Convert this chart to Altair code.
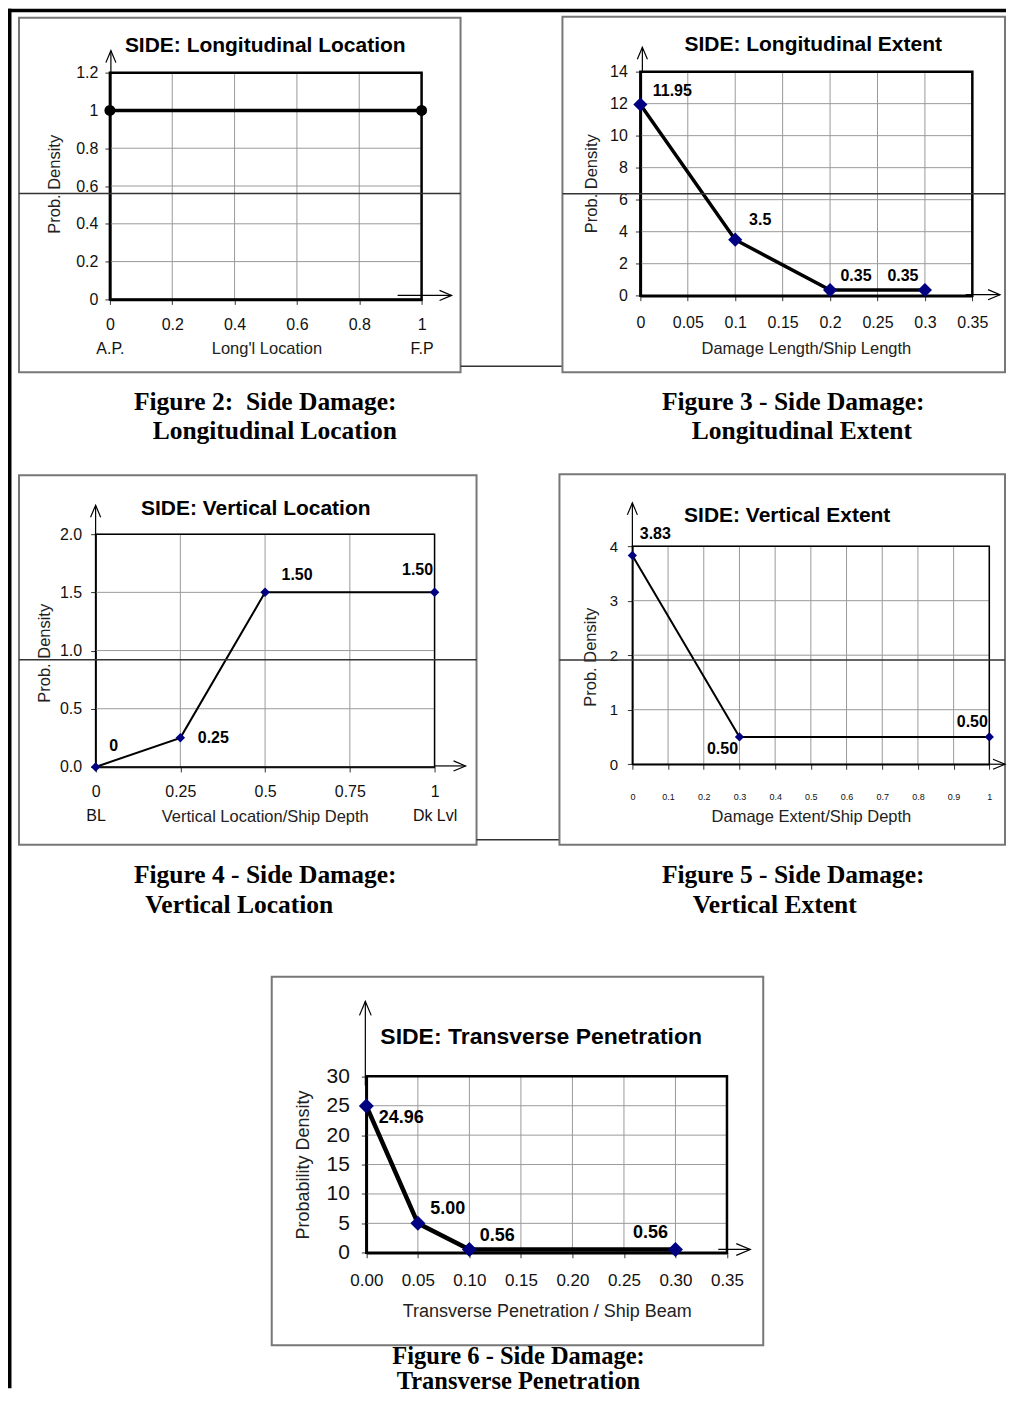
import altair as alt
import pandas as pd

# ------------------------------------------------------------------ data
# Figure 2 - Side damage: longitudinal location
f2_x = [0.0, 1.0]
f2_y = [1.0, 1.0]
f2_xticks = [0, 0.2, 0.4, 0.6, 0.8, 1.0]
f2_yticks = [0, 0.2, 0.4, 0.6, 0.8, 1.0, 1.2]
f2_ends = ["A.P.", "F.P"]

# Figure 3 - Side damage: longitudinal extent
f3_x = [0.0, 0.1, 0.2, 0.3]
f3_y = [11.95, 3.5, 0.35, 0.35]
f3_lbl = ["11.95", "3.5", "0.35", "0.35"]
f3_xticks = [0, 0.05, 0.1, 0.15, 0.2, 0.25, 0.3, 0.35]
f3_yticks = [0, 2, 4, 6, 8, 10, 12, 14]

# Figure 4 - Side damage: vertical location
f4_x = [0.0, 0.25, 0.5, 1.0]
f4_y = [0.0, 0.25, 1.5, 1.5]
f4_lbl = ["0", "0.25", "1.50", "1.50"]
f4_xticks = [0, 0.25, 0.5, 0.75, 1.0]
f4_yticks = [0, 0.5, 1.0, 1.5, 2.0]
f4_ends = ["BL", "Dk Lvl"]

# Figure 5 - Side damage: vertical extent
f5_x = [0.0, 0.3, 1.0]
f5_y = [3.83, 0.5, 0.5]
f5_lbl = ["3.83", "0.50", "0.50"]
f5_xticks = [0, 0.1, 0.2, 0.3, 0.4, 0.5, 0.6, 0.7, 0.8, 0.9, 1.0]
f5_yticks = [0, 1, 2, 3, 4]

# Figure 6 - Side damage: transverse penetration
f6_x = [0.0, 0.05, 0.1, 0.3]
f6_y = [24.96, 5.0, 0.56, 0.56]
f6_lbl = ["24.96", "5.00", "0.56", "0.56"]
f6_xticks = [0, 0.05, 0.1, 0.15, 0.2, 0.25, 0.3, 0.35]
f6_yticks = [0, 5, 10, 15, 20, 25, 30]

# ------------------------------------------------------------------ style
SANS = "Liberation Sans"
SERIF = "Liberation Serif"
GRID = "#9a9a9a"
NAVY = "#000080"
BOXC = "#777777"
UP = "M -0.42 1 L 0 0 L 0.42 1"
RIGHT = "M -1 -0.42 L 0 0 L -1 0.42"


def one():
    return alt.Data(values=[{"k": 0}])


def vrule(x, y1, y2, color="black", w=1.0):
    return alt.Chart(one()).mark_rule(color=color, strokeWidth=w).encode(
        x=alt.value(x), y=alt.value(y1), y2=alt.value(y2))


def hrule(y, x1, x2, color="black", w=1.0):
    return alt.Chart(one()).mark_rule(color=color, strokeWidth=w).encode(
        y=alt.value(y), x=alt.value(x1), x2=alt.value(x2))


def rect(x1, y1, x2, y2, stroke=BOXC, w=2.0, fill="transparent"):
    return alt.Chart(one()).mark_rect(fill=fill, stroke=stroke, strokeWidth=w).encode(
        x=alt.value(x1), x2=alt.value(x2), y=alt.value(y1), y2=alt.value(y2))


def text(txt, x, y, font, size, weight="bold"):
    return alt.Chart(one()).mark_text(
        text=txt, font=font, fontSize=size, fontWeight=weight, align="center",
        baseline="alphabetic", color="black").encode(x=alt.value(x), y=alt.value(y))


def head(x, y, shape, length):
    return alt.Chart(one()).mark_point(
        shape=shape, filled=False, color="black", strokeWidth=1.2,
        size=(2 * length) ** 2, opacity=1).encode(x=alt.value(x), y=alt.value(y))


def panel(S):
    sx = alt.Scale(domain=S["xdom"], range=S["xr"], nice=False, zero=False)
    sy = alt.Scale(domain=S["ydom"], range=S["yr"], nice=False, zero=False)
    H = S["H"]

    xa = dict(values=S["xticks"], format=S["xfmt"], orient="bottom",
              offset=S["yr"][0] - H, grid=False, domainColor="black",
              domainWidth=S["frame"], tickSize=5, tickColor="#333", tickWidth=1,
              labelFont=SANS, labelFontSize=S["xls"], labelColor="#111",
              labelPadding=S["xlp"], labelFlush=False, labelOverlap=False,
              labelLineHeight=24, title=S["xtitle"], titleFont=SANS,
              titleFontSize=S["ts"], titleFontWeight="normal", titleColor="#222",
              titleX=S["xtpos"][0], titleY=S["xtpos"][1], titleAlign="center",
              titleBaseline="middle")
    if "xexpr" in S:
        xa["labelExpr"] = S["xexpr"]
    ya = dict(values=S["yticks"], format=S["yfmt"], orient="left",
              offset=-S["xr"][0], grid=False, domainColor="black",
              domainWidth=S["frame"], tickSize=5, tickColor="#333", tickWidth=1,
              labelFont=SANS, labelFontSize=S["yls"], labelColor="#111",
              labelPadding=S["ylp"], labelOverlap=False, labelFlush=False,
              title=S["ytitle"], titleFont=SANS, titleFontSize=S["yts"],
              titleFontWeight="normal", titleColor="#222", titleAngle=270,
              titleX=S["ytpos"][0], titleY=S["ytpos"][1], titleAlign="center",
              titleBaseline="middle")
    AX = alt.Axis(**xa)
    AY = alt.Axis(**ya)

    df = pd.DataFrame({"x": S["x"], "y": S["y"]})
    gx = pd.DataFrame({"t": S["xticks"]})
    gy = pd.DataFrame({"t": S["yticks"]})
    x0, x1 = S["xdom"]
    y0, y1 = S["ydom"]

    L = []
    b = S["box"]
    L.append(rect(b[0], b[1], b[2], b[3]))
    # grid lines
    L.append(alt.Chart(gx).mark_rule(color=GRID, strokeWidth=1).encode(
        x=alt.X("t:Q", scale=sx, axis=AX),
        y=alt.YDatum(y0, scale=sy, axis=AY), y2=alt.Y2Datum(y1)))
    L.append(alt.Chart(gy).mark_rule(color=GRID, strokeWidth=1).encode(
        y=alt.Y("t:Q", scale=sy, axis=AY),
        x=alt.XDatum(x0, scale=sx, axis=AX), x2=alt.X2Datum(x1)))
    # plot frame
    L.append(alt.Chart(one()).mark_rect(fill="transparent", stroke="black",
                                        strokeWidth=S["frame"]).encode(
        x=alt.XDatum(x0, scale=sx, axis=AX), x2=alt.X2Datum(x1),
        y=alt.YDatum(y0, scale=sy, axis=AY), y2=alt.Y2Datum(y1)))
    # series
    L.append(alt.Chart(df).mark_line(color="black", strokeWidth=S["lw"]).encode(
        x=alt.X("x:Q", scale=sx, axis=AX),
        y=alt.Y("y:Q", scale=sy, axis=AY)))
    L.append(alt.Chart(df).mark_point(shape=S["shape"], filled=True, color=S["mc"],
                                      size=S["ms"], opacity=1).encode(
        x=alt.X("x:Q", scale=sx, axis=AX), y=alt.Y("y:Q", scale=sy, axis=AY)))
    if "lbl" in S:
        dl = pd.DataFrame({"x": S["x"], "y": S["y"], "lbl": S["lbl"]})
        for i, (dx, dy) in enumerate(S["loff"]):
            L.append(alt.Chart(dl.iloc[[i]]).mark_text(
                dx=dx, dy=dy, font=SANS, fontSize=S["lfs"], fontWeight="bold",
                color="black", align="center", baseline="middle").encode(
                x=alt.X("x:Q", scale=sx, axis=AX),
                y=alt.Y("y:Q", scale=sy, axis=AY), text="lbl:N"))
    # axis arrows
    ax = S["yarrow"]
    L.append(vrule(ax[0], ax[1], ax[2], w=1.2))
    L.append(head(ax[0], ax[2], UP, S["ah"]))
    hx = S["xarrow"]
    L.append(hrule(hx[0], hx[1], hx[2], w=1.2))
    L.append(head(hx[2], hx[0], RIGHT, S["ah"]))
    # title and caption
    t = S["title"]
    L.append(text(t[0], t[1], t[2], SANS, t[3]))
    for c in S["caption"]:
        L.append(text(c[0], c[1], c[2], SERIF, S.get("cfs", 25.5)))
    # scan artefacts (page lines)
    for r in S.get("hlines", []):
        L.append(hrule(r[0], r[1], r[2], color="#333", w=1.5))
    for r in S.get("rects", []):
        L.append(rect(r[0], r[1], r[2], r[3], stroke="black", w=0, fill="black"))
    return alt.layer(*L).properties(width=S["W"], height=H)


P1 = dict(
    W=503, H=454, x=f2_x, y=f2_y, xticks=f2_xticks, yticks=f2_yticks,
    xdom=[0, 1], ydom=[0, 1.2], xr=[102, 414], yr=[291, 64],
    xfmt=".1~f", yfmt=".1~f",
    xexpr=f"datum.value === 0 ? ['0', '{f2_ends[0]}'] : datum.value === 1 ? ['1', '{f2_ends[1]}'] : datum.label",
    xls=16, xlp=12, yls=16, ylp=7, ts=16.5, yts=16.5,
    xtitle="Long'l Location", xtpos=(258.7, 48.7),
    ytitle="Prob. Density", ytpos=(-55, 175.3),
    frame=2.5, lw=3.5, shape="circle", mc="black", ms=121,
    box=(11, 9, 453, 364), yarrow=(103, 64, 42), xarrow=(287, 390, 444), ah=12,
    title=("SIDE: Longitudinal Location", 257.5, 43.5, 21),
    caption=[("Figure 2:\u00a0 Side Damage:", 257.5, 402), ("Longitudinal Location", 267, 430.5)],
    hlines=[(185, 11, 453), (358, 453, 555)],
    rects=[(0, 0, 999, 3.5), (0, 0, 3.5, 1381)],
)

P2 = dict(
    W=480, H=454, x=f3_x, y=f3_y, lbl=f3_lbl, xticks=f3_xticks, yticks=f3_yticks,
    xdom=[0, 0.35], ydom=[0, 14], xr=[130, 462.3], yr=[287.3, 63],
    xfmt=".2~f", yfmt="d",
    xls=16, xlp=13.5, yls=16, ylp=8, ts=16.5, yts=16.5,
    xtitle="Damage Length/Ship Length", xtpos=(295.7, 52.4),
    ytitle="Prob. Density", ytpos=(-49.3, 174.7),
    frame=2.5, lw=3.5, shape="diamond", mc=NAVY, ms=200,
    loff=[(32, -13), (25, -20), (26, -14), (-22, -14)], lfs=16,
    box=(52, 8, 495, 364), yarrow=(132, 63, 38.7), xarrow=(286.3, 455.7, 490), ah=12,
    title=("SIDE: Longitudinal Extent", 303, 42, 21),
    caption=[("Figure 3 - Side Damage:", 283, 402), ("Longitudinal Extent", 291.7, 430.5)],
    hlines=[(185.3, 52, 495)],
)

P3 = dict(
    W=503, H=483, x=f4_x, y=f4_y, lbl=f4_lbl, xticks=f4_xticks, yticks=f4_yticks,
    xdom=[0, 1], ydom=[0, 2], xr=[87.7, 427], yr=[305, 72],
    xfmt=".2~f", yfmt=".1f",
    xexpr=f"datum.value === 0 ? ['0', '{f4_ends[0]}'] : datum.value === 1 ? ['1', '{f4_ends[1]}'] : datum.label",
    xls=16, xlp=12, yls=16, ylp=9, ts=16.5, yts=16.5,
    xtitle="Vertical Location/Ship Depth", xtpos=(257, 49.7),
    ytitle="Prob. Density", ytpos=(-50.7, 190.7),
    frame=1.5, lw=2, shape="diamond", mc=NAVY, ms=90,
    loff=[(18, -21), (33, 0), (32, -17), (-17, -22)], lfs=16,
    box=(11, 13, 469, 383), yarrow=(87.7, 72, 43), xarrow=(304, 427, 458), ah=12,
    title=("SIDE: Vertical Location", 248, 53, 21),
    caption=[("Figure 4 - Side Damage:", 257.5, 421.5), ("Vertical Location", 231.5, 451)],
    hlines=[(197.7, 11, 469), (378, 469, 552)],
)

P4 = dict(
    W=480, H=483, x=f5_x, y=f5_y, lbl=f5_lbl, xticks=f5_xticks, yticks=f5_yticks,
    xdom=[0, 1], ydom=[0, 4], xr=[122, 479.3], yr=[302.3, 84],
    xfmt=".1~f", yfmt="d",
    xls=9, xlp=23.5, yls=15, ylp=9.7, ts=16.5, yts=16.5,
    xtitle="Damage Extent/Ship Depth", xtpos=(300.7, 52.4),
    ytitle="Prob. Density", ytpos=(-42.3, 194.7),
    frame=1.5, lw=2, shape="diamond", mc=NAVY, ms=85,
    loff=[(23, -21), (-17, 12), (-17, -15)], lfs=16,
    box=(49, 12, 495, 383), yarrow=(122, 84, 40.7), xarrow=(302.3, 479, 495), ah=12,
    title=("SIDE: Vertical Extent", 277, 60, 21),
    caption=[("Figure 5 - Side Damage:", 283, 421.5), ("Vertical Extent", 264.5, 451)],
    hlines=[(198, 49, 495)],
)

P5 = dict(
    W=503, H=437, x=f6_x, y=f6_y, lbl=f6_lbl, xticks=f6_xticks, yticks=f6_yticks,
    xdom=[0, 0.35], ydom=[0, 30], xr=[358.7, 719.7], yr=[308.3, 131.7],
    xfmt=".2f", yfmt="d",
    xls=17, xlp=14.4, yls=21, ylp=12, ts=18, yts=18,
    xtitle="Transverse Penetration / Ship Beam", xtpos=(539.3, 59),
    ytitle="Probability Density", ytpos=(-62.4, 220),
    frame=2.5, lw=4.5, shape="diamond", mc=NAVY, ms=225,
    loff=[(35, 12), (30, -14), (28, -13), (-25, -16)], lfs=18,
    box=(264, 32, 756, 401), yarrow=(357.7, 141, 56.7), xarrow=(305, 711, 743), ah=14,
    title=("SIDE: Transverse Penetration", 533.7, 99, 23),
    caption=[("Figure 6 - Side Damage:", 511, 420), ("Transverse Penetration", 511, 445)],
    cfs=24.5,
)

panels = [panel(p) for p in (P1, P2, P3, P4, P5)]

chart = alt.ConcatChart(
    concat=panels, columns=2, align="none", bounds="flush", spacing=0,
    padding=0, background="white",
).configure_view(strokeOpacity=0)

chart.save("out.html", embed_options={"renderer": "svg", "actions": False})
